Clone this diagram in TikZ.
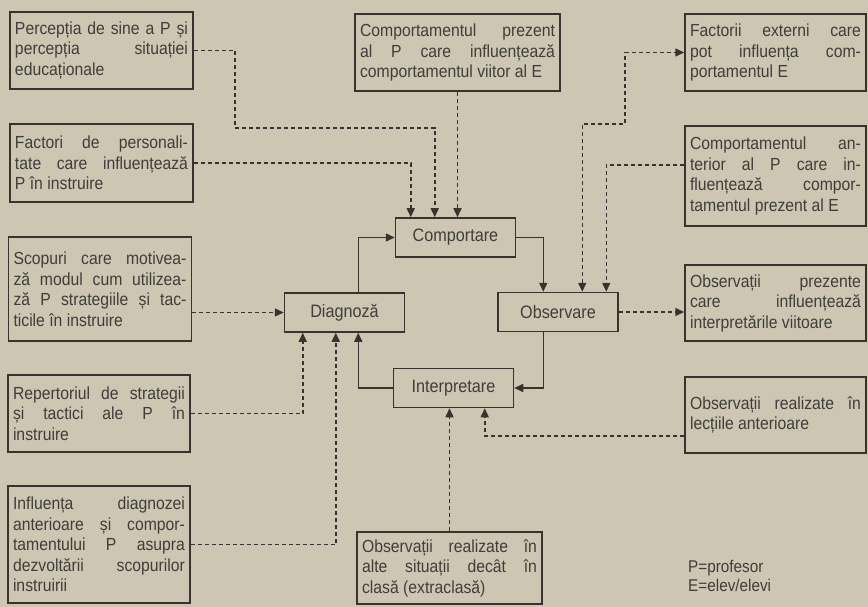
\documentclass[tikz,border=0pt]{standalone}
\usepackage{fontspec}
\setmainfont{Liberation Sans}[FakeStretch=0.9]
\usetikzlibrary{arrows.meta}
\definecolor{Paper}{HTML}{CCC6B3}
\definecolor{Ink}{HTML}{35342F}
\definecolor{InkText}{HTML}{3F3E39}

% one justified line inside a text box
\newcommand{\jline}[1]{\makebox[\hsize][s]{\spaceskip=0pt\xspaceskip=0pt\relax #1}\\}

\tikzset{
    infobox/.style={draw=Ink, line width=1.5pt, text=InkText, align=justify,
        inner xsep=5pt, inner ysep=3pt, text width=#1,
        font=\fontsize{17.5}{20.5}\selectfont},
    infobox/.default=173pt,
    phase/.style={draw=Ink, line width=1.5pt, text=InkText,
        minimum width=120pt, minimum height=39pt,
        font=\fontsize{18}{20}\selectfont},
    flow/.style={draw=Ink, line width=1.5pt, -{Triangle[length=9pt,width=8pt]}},
    dep/.style={flow, dash pattern=on 4pt off 3pt},
    biflow/.style={dep, {Triangle[length=9pt,width=8pt]}-{Triangle[length=9pt,width=8pt]}},
}

\begin{document}
\begin{tikzpicture}[x=1pt, y=-1pt]

    % --- 1. paper ---
    \fill[Paper] (0,0) rectangle (868,607);

    % --- 2. left column ---
    \node[infobox, minimum height=77pt] (percep) at (101.5,50.5) {%
        \jline{Percepția de sine a P și}
        \jline{percepția situației}
        educaționale};
    \node[infobox, minimum height=78pt] (factori) at (101.5,163) {%
        \jline{Factori de personali-}
        \jline{tate care influențează}
        P în instruire};
    \node[infobox, minimum height=104pt] (scopuri) at (100,289) {%
        \jline{Scopuri care motivea-}
        \jline{ză modul cum utilizea-}
        \jline{ză P strategiile și tac-}
        ticile în instruire};
    \node[infobox=172pt, minimum height=77pt] (repert) at (99,413.5) {%
        \jline{Repertoriul de strategii}
        \jline{și tactici ale P în}
        instruire};
    \node[infobox=172pt, minimum height=117pt] (influenta) at (99,544.5) {%
        \jline{Influența diagnozei}
        \jline{anterioare și compor-}
        \jline{tamentului P asupra}
        \jline{dezvoltării scopurilor}
        instruirii};

    % --- 3. middle column ---
    \node[infobox=195pt, minimum height=77pt] (prezent) at (457.5,52.5) {%
        \jline{Comportamentul prezent}
        \jline{al P care influențează}
        comportamentul viitor al E};
    \node[infobox=175pt, minimum height=72pt] (alte) at (449.5,568) {%
        \jline{Observații realizate în}
        \jline{alte situații decât în}
        clasă (extraclasă)};

    % --- 4. right column ---
    \node[infobox=171pt, minimum height=77pt] (extern) at (775.5,52.5) {%
        \jline{Factorii externi care}
        \jline{pot influența com-}
        portamentul E};
    \node[infobox=171pt, minimum height=100pt] (anterior) at (775.5,176) {%
        \jline{Comportamentul an-}
        \jline{terior al P care in-}
        \jline{fluențează compor-}
        tamentul prezent al E};
    \node[infobox=171pt, minimum height=76pt] (obsprez) at (775.5,303) {%
        \jline{Observații prezente}
        \jline{care influențează}
        interpretările viitoare};
    \node[infobox=171pt, minimum height=76pt] (lectii) at (775.5,415) {%
        \jline{Observații realizate în}
        lecțiile anterioare};

    % --- 5. the cycle ---
    \node[phase] (comportare) at (455.5,237.5) {Comportare};
    \node[phase] (diagnoza) at (344.5,312.5) {Diagnoză};
    \node[phase] (observare) at (558,312) {Observare};
    \node[phase] (interpretare) at (453.5,388) {Interpretare};

    \draw[flow] ([xshift=-47pt]diagnoza.north east) |- (comportare.west);
    \draw[flow] (comportare.east) -| ([xshift=46pt]observare.north west);
    \draw[flow] ([xshift=46pt]observare.south west) |- (interpretare.east);
    \draw[flow] (interpretare.west) -| ([xshift=-47pt]diagnoza.south east);

    % --- 6. influences ---
    \draw[dep] (percep.east) -| (235,128) -| ([xshift=40pt]comportare.north west);
    \draw[dep] (factori.east) -| ([xshift=16pt]comportare.north west);
    \draw[dep] (prezent.south) -- (prezent.south |- comportare.north);
    \draw[dep] (scopuri.east |- diagnoza.west) -- (diagnoza.west);
    \draw[dep] (repert.east) -| ([xshift=19pt]diagnoza.south west);
    \draw[dep] (influenta.east) -| ([xshift=52pt]diagnoza.south west);
    \draw[biflow] ([xshift=85pt]observare.north west) |- (625,124) |- (extern.west);
    \draw[dep] ([yshift=-40pt]anterior.north west) -| ([xshift=109pt]observare.north west);
    \draw[dep] (observare.east) -- (observare.east -| obsprez.west);
    \draw[dep] ([yshift=18pt]lectii.south west) -| ([xshift=92pt]interpretare.south west);
    \draw[dep] (alte.north) -- (alte.north |- interpretare.south);

    % --- 7. legend ---
    \node[anchor=north west, align=left, inner sep=0pt, text=InkText,
        font=\fontsize{17}{19}\selectfont] (legenda) at (688,560)
        {P=profesor\\E=elev/elevi};

\end{tikzpicture}
\end{document}
